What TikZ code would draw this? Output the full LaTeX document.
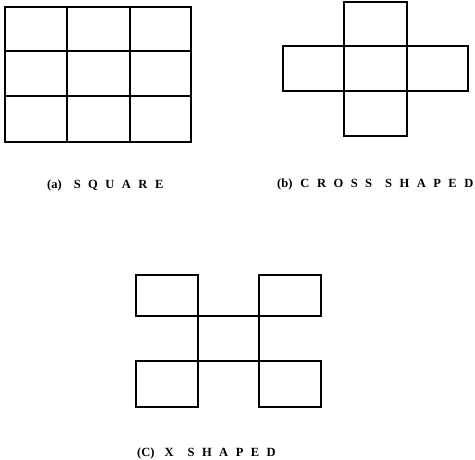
\documentclass[tikz,border=0pt]{standalone}
\usepackage{fontspec}
\setmainfont{Liberation Serif}
\tikzset{
  cell/.style={line width=1.2pt, line join=miter},
  caption/.style={anchor=base west, inner sep=0pt, font=\bfseries\fontsize{12.5}{14}\selectfont}
}
\newcommand{\spaced}[1]{{\addfontfeature{LetterSpace=60}#1}}
\begin{document}
\begin{tikzpicture}[x=1pt,y=-1pt]
\useasboundingbox (0,0) rectangle (475,460);
% (a) square
\draw[cell] (5,7) rectangle (191,142);
\draw[cell] (67,7) -- (67,142) (130,7) -- (130,142);
\draw[cell] (5,51) -- (191,51) (5,96) -- (191,96);
% (b) cross
\draw[cell] (344,2) rectangle (407,136);
\draw[cell] (283,46) rectangle (468,91);
% (c) X shaped
\draw[cell] (136,275) rectangle (198,316);
\draw[cell] (259,275) rectangle (321,316);
\draw[cell] (198,316) rectangle (259,361);
\draw[cell] (136,361) rectangle (198,407);
\draw[cell] (259,361) rectangle (321,407);
% captions
\node[caption] (capa) at (47,189) {(a)\hspace{12pt}\spaced{SQUARE}};
\node[caption] (capb) at (277,188) {(b)\hspace{8pt}\spaced{CROSS}\hspace{13pt}\spaced{SHAPED}};
\node[caption] (capc) at (137,456) {(C)\hspace{10pt}\spaced{X}\hspace{14pt}\spaced{SHAPED}};
\end{tikzpicture}
\end{document}
